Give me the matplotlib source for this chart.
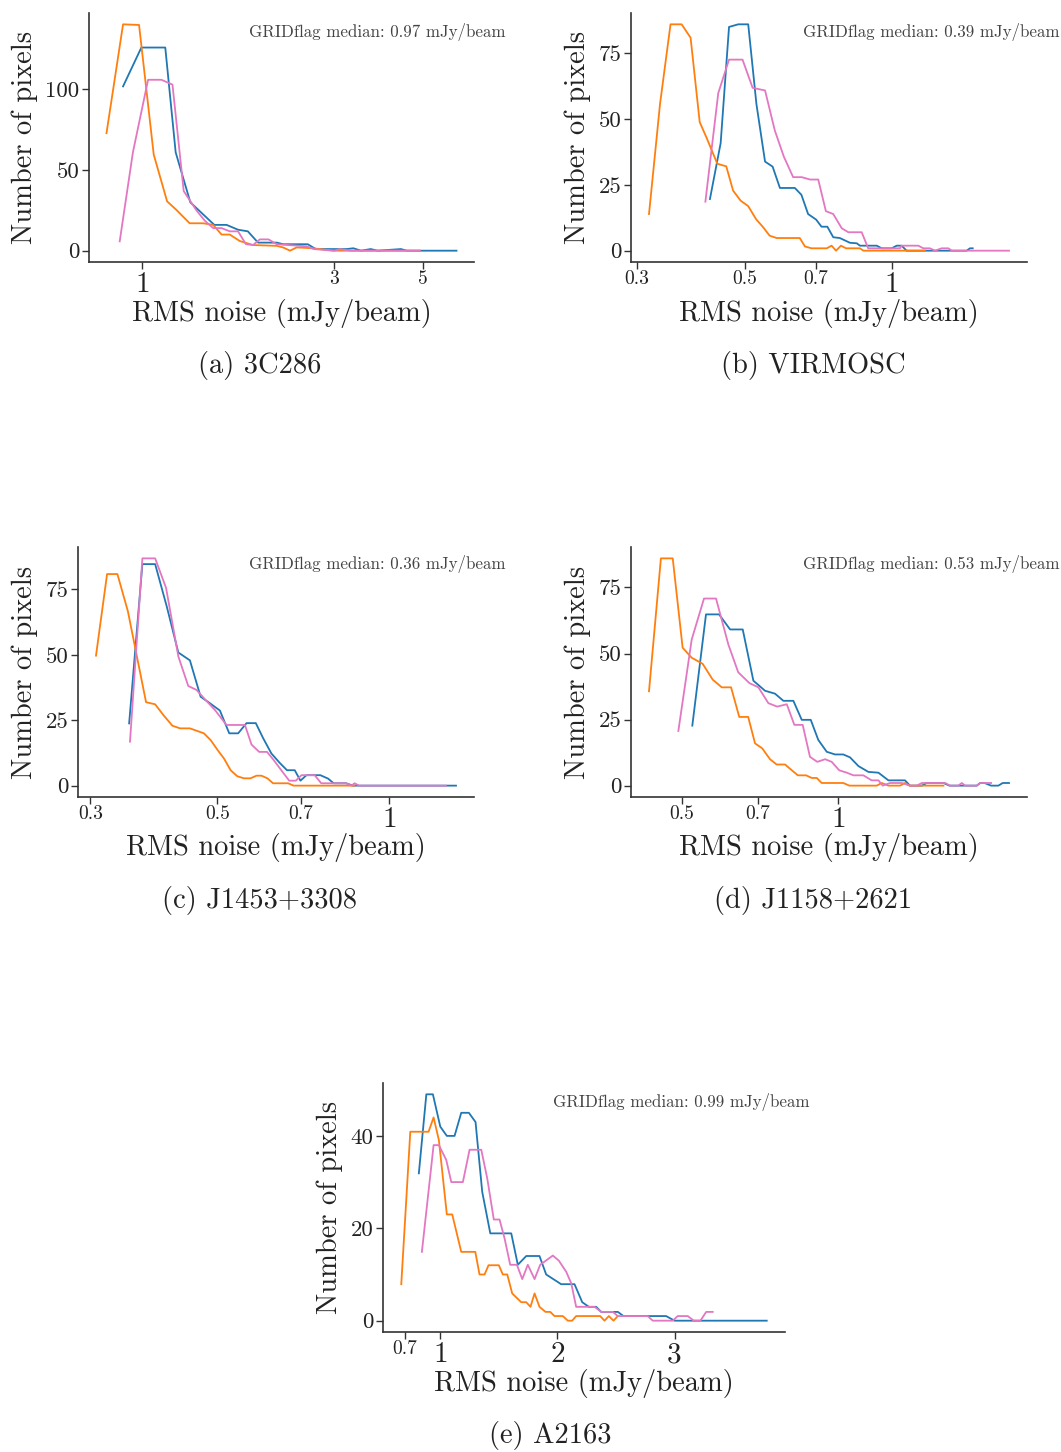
import matplotlib
matplotlib.use("Agg")
import matplotlib.pyplot as plt

plt.rcParams['font.family'] = 'serif'
plt.rcParams['font.serif'] = ['cmr10']
plt.rcParams['mathtext.fontset'] = 'cm'
plt.rcParams['axes.unicode_minus'] = False
plt.rcParams['axes.formatter.use_mathtext'] = True

W, H = 1061, 1452

# ---- (a) 3C286
a_blue_x = [0.895, 0.994, 1.14, 1.21, 1.316, 1.51, 1.62, 1.73, 1.83, 1.94, 2.16, 2.24, 2.58, 2.7, 3.22, 3.35, 3.5, 3.7, 3.85, 4.4, 4.55, 6.05]
a_blue_y = [101.9, 126, 126, 61, 30, 16, 16, 13, 12, 5, 5, 4, 4, 1, 1, 1.5, 0, 1, 0, 1, 0, 0]
a_orange_x = [0.814, 0.895, 0.981, 1.067, 1.152, 1.215, 1.311, 1.416, 1.5, 1.574, 1.65, 1.747, 1.885, 2.157, 2.24, 2.33, 2.42, 2.66, 2.87, 3.0, 4.9]
a_orange_y = [72.9, 140.4, 140, 59.6, 30.6, 25.3, 17, 17, 16, 10, 10, 6, 3.5, 3, 2, 0, 2, 1.5, 0.5, 0, 0]
a_pink_x = [0.878, 0.947, 1.033, 1.115, 1.188, 1.267, 1.363, 1.43, 1.5, 1.574, 1.65, 1.73, 1.81, 1.885, 1.96, 2.06, 2.16, 2.56, 2.67, 3.0, 3.1, 3.3, 4.9]
a_pink_y = [5.8, 61, 106, 106, 103, 37, 25, 18.6, 14, 14, 12, 12, 4, 3.5, 7, 7, 4, 2.7, 1, 0, 1, 0, 0]

# ---- (b) VIRMOSC
b_blue_x = [0.424, 0.446, 0.464, 0.4845, 0.508, 0.528, 0.55, 0.57, 0.59, 0.633, 0.653, 0.674, 0.7, 0.718, 0.738, 0.759, 0.783, 0.821, 0.848, 0.861, 0.932, 0.954, 1.0, 1.024, 1.048, 1.073, 1.425, 1.447, 1.466]
b_blue_y = [19.6, 40.8, 84.9, 85.9, 85.9, 55.7, 33.8, 31.9, 23.8, 23.8, 21.2, 13.9, 11.8, 9.1, 9.1, 5.1, 4.8, 3, 2.8, 1.9, 1.9, 0.9, 0.9, 1.9, 1.9, 0, 0, 0.9, 0.9]
b_orange_x = [0.318, 0.335, 0.352, 0.371, 0.387, 0.404, 0.417, 0.439, 0.458, 0.473, 0.49, 0.508, 0.527, 0.545, 0.562, 0.581, 0.648, 0.664, 0.685, 0.736, 0.753, 0.769, 0.787, 0.806, 0.861, 0.875, 1.17]
b_orange_y = [13.9, 55.7, 85.9, 85.9, 80.8, 48.8, 43, 33, 32, 22.8, 19, 16.9, 12, 8.9, 5.7, 4.8, 4.8, 1.6, 0.9, 0.9, 1.9, 0, 1.9, 0.9, 0.9, 0, 0]
b_pink_x = [0.415, 0.441, 0.464, 0.4945, 0.5187, 0.55, 0.576, 0.601, 0.628, 0.654, 0.68, 0.707, 0.733, 0.759, 0.79, 0.815, 0.868, 0.895, 1.04, 1.048, 1.134, 1.161, 1.198, 1.227, 1.266, 1.307, 1.328, 1.74]
b_pink_y = [18.6, 59.8, 72.5, 72.5, 61.8, 60.8, 45.6, 35.7, 27.9, 27.9, 27, 27, 15, 13.9, 8.5, 7, 7, 0.9, 0.9, 1.9, 1.9, 0.9, 0.9, 0, 0.9, 0.9, 0, 0]

# ---- (c) J1453+3308
c_blue_x = [0.3508, 0.37, 0.3895, 0.408, 0.4276, 0.448, 0.4677, 0.4856, 0.5055, 0.5248, 0.544, 0.5626, 0.584, 0.6013, 0.6218, 0.643, 0.662, 0.683, 0.699, 0.716, 0.757, 0.781, 0.799, 0.8404, 0.863, 1.307]
c_blue_y = [23.8, 84.7, 84.7, 68.6, 50.9, 47.9, 34, 31.5, 28.7, 20, 20, 23.9, 23.9, 18.2, 12.3, 8.7, 5.9, 5.9, 1.9, 4, 4, 2.7, 0.9, 0.9, 0, 0]
c_orange_x = [0.307, 0.321, 0.3346, 0.349, 0.3755, 0.3895, 0.4026, 0.4175, 0.4305, 0.448, 0.474, 0.487, 0.502, 0.5137, 0.5277, 0.542, 0.5565, 0.5716, 0.5856, 0.5975, 0.6119, 0.626, 0.665, 0.68, 0.869]
c_orange_y = [49.7, 80.9, 80.9, 66.7, 31.9, 31.1, 27, 22.9, 21.9, 21.9, 20, 17.4, 13.3, 10.4, 5.9, 3.6, 2.8, 2.8, 3.8, 3.8, 2.8, 0.9, 0.9, 0, 0]
c_pink_x = [0.352, 0.37, 0.3895, 0.407, 0.4276, 0.445, 0.46, 0.476, 0.4955, 0.519, 0.559, 0.574, 0.592, 0.611, 0.628, 0.647, 0.668, 0.686, 0.702, 0.74, 0.76, 0.84, 0.858, 0.869, 0.885, 1.255]
c_pink_y = [16.8, 86.9, 86.9, 75.6, 49.4, 38.1, 36.6, 33, 28.9, 23.2, 23.2, 15.7, 12.9, 12.9, 9.7, 5.9, 1.9, 1.9, 4, 4, 0.9, 0.9, 0, 0.9, 0, 0]

# ---- (d) J1158+2621
d_blue_x = [0.524, 0.5567, 0.5898, 0.6194, 0.655, 0.6866, 0.723, 0.7556, 0.784, 0.8195, 0.8504, 0.885, 0.915, 0.95, 0.9855, 1.022, 1.053, 1.093, 1.142, 1.194, 1.248, 1.343, 1.373, 1.447, 1.479, 1.592, 1.635, 1.845, 1.873, 1.91, 1.966, 2.03, 2.07, 2.128]
d_blue_y = [22.7, 64.8, 64.8, 59.1, 59.1, 39.7, 35.9, 34.8, 32.1, 32.1, 24.9, 24.9, 17.3, 12.8, 11.8, 11.8, 10.7, 7.4, 5.2, 4.9, 2, 2, 0, 0, 1, 1, 0, 0, 1, 1, 0, 0, 1, 1]
d_orange_x = [0.4326, 0.456, 0.4805, 0.502, 0.5226, 0.5485, 0.5735, 0.597, 0.622, 0.645, 0.671, 0.6916, 0.714, 0.739, 0.761, 0.79, 0.814, 0.836, 0.867, 0.889, 0.909, 0.929, 1.022, 1.05, 1.185, 1.212, 1.248, 1.314, 1.343, 1.37, 1.592]
d_orange_y = [35.7, 86, 86, 52.2, 48.4, 46.1, 40.1, 37.2, 37.2, 26, 26, 16, 14.1, 10, 8, 8, 5.8, 3.9, 3.9, 2.9, 2.9, 1, 1, 0, 0, 1, 0, 0, 1, 0, 0]
d_pink_x = [0.4926, 0.5226, 0.5518, 0.582, 0.6146, 0.642, 0.6745, 0.702, 0.7337, 0.763, 0.796, 0.823, 0.854, 0.882, 0.911, 0.943, 0.971, 1.004, 1.038, 1.069, 1.117, 1.159, 1.194, 1.217, 1.257, 1.324, 1.373, 1.415, 1.447, 1.604, 1.64, 1.70, 1.727, 1.753, 1.845, 1.873, 1.966]
d_pink_y = [20.7, 55.3, 70.8, 70.8, 53.4, 42.9, 38.8, 37.2, 31.2, 29.9, 30.8, 23, 23, 10.9, 9, 10, 9, 5.8, 4.9, 3.9, 3.9, 2, 2, 0, 1, 1, 0, 0, 1, 1, 0, 0, 1, 0, 0, 1, 1]

# ---- (e) A2163
e_blue_x = [0.817, 0.881, 0.937, 1.0, 1.056, 1.122, 1.179, 1.244, 1.301, 1.358, 1.427, 1.606, 1.662, 1.734, 1.847, 1.904, 2.032, 2.146, 2.212, 2.268, 2.331, 2.374, 2.516, 2.564, 2.928, 3.0, 3.787]
e_blue_y = [31.9, 49, 49, 42, 40, 40, 45, 45, 43, 27.9, 18.9, 18.9, 12.1, 14, 14, 10, 7.9, 7.9, 4, 3, 3, 1.9, 1.9, 1, 1, 0, 0]
e_orange_x = [0.667, 0.744, 0.9, 0.943, 0.988, 1.056, 1.102, 1.179, 1.299, 1.335, 1.378, 1.412, 1.5, 1.534, 1.572, 1.614, 1.691, 1.734, 1.77, 1.805, 1.847, 1.898, 1.939, 1.975, 2.046, 2.089, 2.126, 2.16, 2.365, 2.402, 2.439, 2.479, 2.516]
e_orange_y = [7.9, 40.9, 40.9, 44, 39.1, 23, 23, 14.9, 14.9, 10, 10, 12, 12, 10, 10, 5.9, 4, 4, 3, 5.9, 3, 1.9, 1.9, 1, 1, 0, 0, 1, 1, 0, 1, 0, 1]
e_pink_x = [0.843, 0.943, 0.988, 1.051, 1.094, 1.193, 1.25, 1.35, 1.401, 1.457, 1.506, 1.549, 1.597, 1.654, 1.7, 1.747, 1.805, 1.853, 1.961, 2.012, 2.075, 2.118, 2.16, 2.317, 2.374, 2.473, 2.516, 2.771, 2.814, 2.985, 3.027, 3.113, 3.164, 3.221, 3.27, 3.326]
e_pink_y = [14.9, 38, 38, 34.8, 30, 30, 37, 37, 30.8, 21.9, 21.9, 17.8, 12.1, 12.1, 9, 12.1, 9, 12.1, 14.1, 13, 10.6, 8.1, 3, 3, 1.9, 1.9, 1, 1, 0, 0, 1, 1, 0, 0, 1.9, 1.9]

captions = ['(a) 3C286', '(b) VIRMOSC', '(c) J1453+3308', '(d) J1158+2621', '(e) A2163']
medians = [0.97, 0.39, 0.36, 0.53, 0.99]
major_ticks = [[1], [1], [1], [1], [1, 2, 3]]
minor_ticks = [[3, 5], [0.3, 0.5, 0.7], [0.3, 0.5, 0.7], [0.5, 0.7], [0.7, 3]]
y_ticks = [[0, 50, 100], [0, 25, 50, 75], [0, 25, 50, 75], [0, 25, 50, 75], [0, 20, 40]]
log_x = [True, True, True, True, False]

series = [
    [(a_blue_x, a_blue_y), (a_orange_x, a_orange_y), (a_pink_x, a_pink_y)],
    [(b_blue_x, b_blue_y), (b_orange_x, b_orange_y), (b_pink_x, b_pink_y)],
    [(c_blue_x, c_blue_y), (c_orange_x, c_orange_y), (c_pink_x, c_pink_y)],
    [(d_blue_x, d_blue_y), (d_orange_x, d_orange_y), (d_pink_x, d_pink_y)],
    [(e_blue_x, e_blue_y), (e_orange_x, e_orange_y), (e_pink_x, e_pink_y)],
]
colors = ['#1f77b4', '#ff7f0e', '#e377c2']

# layout in pixels: left, right, top, bottom of axes; ylabel x; caption x,y; note x, baseline
boxes = [(89, 474, 13, 262), (631, 1027, 13, 262), (78, 474, 547, 797),
         (631, 1027, 547, 797), (383, 785, 1083, 1332)]
ylab_x = [25, 578, 25, 578, 330]
cap_pos = [(260, 365), (813, 365), (260, 900), (813, 900), (550, 1436)]
note_pos = [(249, 37), (803, 37), (249, 569), (803, 569), (553, 1107)]

fig = plt.figure(figsize=(W / 100, H / 100), dpi=100)
spine_col = '#333333'

for i in range(5):
    l, r, t, b = boxes[i]
    ax = fig.add_axes([l / W, 1 - b / H, (r - l) / W, (b - t) / H])
    for (x, y), c in zip(series[i], colors):
        ax.plot(x, y, color=c, lw=1.3)
    if log_x[i]:
        ax.set_xscale('log')
    ax.set_xticks(major_ticks[i], labels=[f'{v:g}' for v in major_ticks[i]])
    ax.set_xticks(minor_ticks[i], labels=[f'{v:g}' for v in minor_ticks[i]], minor=True)
    ax.set_yticks(y_ticks[i], labels=[str(v) for v in y_ticks[i]])
    ax.tick_params(axis='x', which='major', labelsize=21, length=5, width=1, pad=2, colors=spine_col, labelcolor='#222222')
    ax.tick_params(axis='x', which='minor', labelsize=14, length=5, width=1, pad=1, colors=spine_col, labelcolor='#222222')
    ax.tick_params(axis='y', which='major', labelsize=16.5, length=5, width=1, pad=2, colors=spine_col, labelcolor='#222222')
    for s in ['top', 'right']:
        ax.spines[s].set_visible(False)
    for s in ['left', 'bottom']:
        ax.spines[s].set_color(spine_col)
        ax.spines[s].set_linewidth(1.2)

    fig.text(ylab_x[i] / W, 1 - (t + b) / 2 / H, 'Number of pixels', rotation=90,
             ha='center', va='center', fontsize=20.5, color='#222222')
    fig.text((l + r) / 2 / W, 1 - (b + 51) / H, 'RMS noise (mJy/beam)',
             ha='center', va='center', fontsize=20.5, color='#222222')
    fig.text(cap_pos[i][0] / W, 1 - cap_pos[i][1] / H, captions[i],
             ha='center', va='center', fontsize=20.5, color='#222222')
    fig.text(note_pos[i][0] / W, 1 - note_pos[i][1] / H, f'GRIDflag median: {medians[i]:.2f} mJy/beam',
             ha='left', va='baseline', fontsize=12.2, color='#444444')

fig.savefig('out.png', dpi=100)
